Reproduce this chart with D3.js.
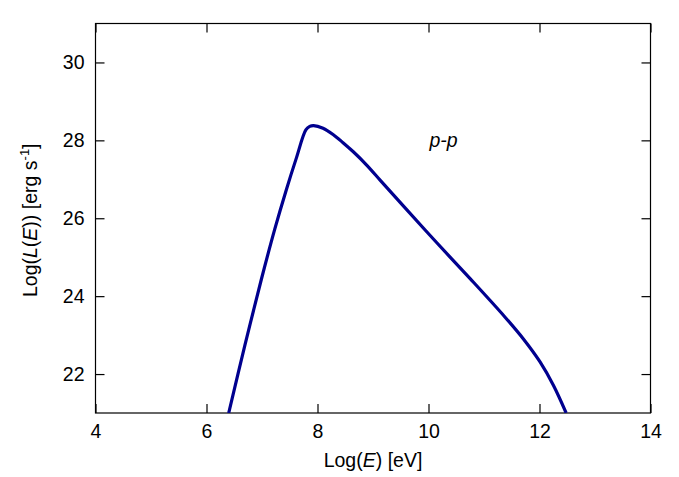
<!DOCTYPE html>
<html>
<head>
<meta charset="utf-8">
<script src="https://cdn.jsdelivr.net/npm/d3@7"></script>
<style>
body { margin: 0; background: #fff; }
text { font-family: "Liberation Sans", Arial, sans-serif; fill: #000; }
</style>
</head>
<body>
<svg id="chart" width="679" height="477"></svg>
<script>
// p-p spectrum
const logE = [6.40, 6.69, 6.99, 7.23, 7.44, 7.62, 7.79, 7.86, 7.93, 8.10, 8.28, 8.46, 8.65, 8.89, 9.14, 9.55, 10.15, 10.75, 11.38, 11.71, 12.01, 12.25, 12.48];
const logL = [21.00, 22.73, 24.44, 25.72, 26.74, 27.55, 28.27, 28.36, 28.38, 28.31, 28.15, 27.94, 27.70, 27.36, 26.96, 26.31, 25.37, 24.45, 23.46, 22.90, 22.31, 21.71, 21.00];

const xTicks = [4, 6, 8, 10, 12, 14];
const yTicks = [22, 24, 26, 28, 30];

const margin = { top: 23.5, right: 28.5, bottom: 64, left: 95.5 };
const width = 679, height = 477;
const w = width - margin.left - margin.right;
const h = height - margin.top - margin.bottom;
const TICK = 9;
const FS = 19.5;

const svg = d3.select('#chart');
const g = svg.append('g').attr('transform', `translate(${margin.left},${margin.top})`);

const x = d3.scaleLinear().domain([4, 14]).range([0, w]);
const y = d3.scaleLinear().domain([21, 31]).range([h, 0]);

g.append('clipPath').attr('id', 'clip')
	.append('rect').attr('width', w).attr('height', h);

// inward ticks on all four sides
const axes = [
	[d3.axisBottom(x).tickValues(xTicks).tickSizeInner(-TICK), `translate(0,${h})`, true],
	[d3.axisTop(x).tickValues(xTicks).tickSizeInner(-TICK), null, false],
	[d3.axisLeft(y).tickValues(yTicks).tickSizeInner(-TICK), null, true],
	[d3.axisRight(y).tickValues(yTicks).tickSizeInner(-TICK), `translate(${w},0)`, false]
];
axes.forEach(([ax, tr, labels]) => {
	const a = g.append('g').call(ax.tickSizeOuter(0).tickPadding(labels ? 11 : 0));
	if (tr) a.attr('transform', tr);
	a.select('.domain').remove();
	a.selectAll('line').attr('stroke', '#000').attr('stroke-width', 1.2);
	a.selectAll('text').style('font-size', FS + 'px');
	if (!labels) a.selectAll('text').remove();
});

g.append('rect')
	.attr('width', w).attr('height', h)
	.attr('fill', 'none').attr('stroke', '#000').attr('stroke-width', 1.2);

const line = d3.line()
	.x((d, i) => x(logE[i]))
	.y(d => y(d))
	.curve(d3.curveCatmullRom.alpha(0.5));

g.append('path')
	.datum(logL)
	.attr('clip-path', 'url(#clip)')
	.attr('fill', 'none')
	.attr('stroke', '#00008f')
	.attr('stroke-width', 3.2)
	.attr('stroke-linejoin', 'round')
	.attr('d', line);

g.append('text')
	.attr('x', x(10.27)).attr('y', y(27.84))
	.attr('text-anchor', 'middle')
	.style('font-size', FS + 'px').style('font-style', 'italic')
	.text('p-p');

// axis titles
const xl = svg.append('text')
	.attr('x', margin.left + w / 2).attr('y', 467)
	.attr('text-anchor', 'middle')
	.style('font-size', FS + 'px');
xl.append('tspan').text('Log(');
xl.append('tspan').style('font-style', 'italic').text('E');
xl.append('tspan').text(') [eV]');

const yl = svg.append('text')
	.attr('transform', `translate(37,${margin.top + h / 2 + 2}) rotate(-90)`)
	.attr('text-anchor', 'middle')
	.style('font-size', FS + 'px');
yl.append('tspan').text('Log(');
yl.append('tspan').style('font-style', 'italic').text('L');
yl.append('tspan').text('(');
yl.append('tspan').style('font-style', 'italic').text('E');
yl.append('tspan').text(')) [erg s');
yl.append('tspan').attr('dy', -8).style('font-size', '13px').text('-1');
yl.append('tspan').attr('dy', 8).text(']');
</script>
</body>
</html>
